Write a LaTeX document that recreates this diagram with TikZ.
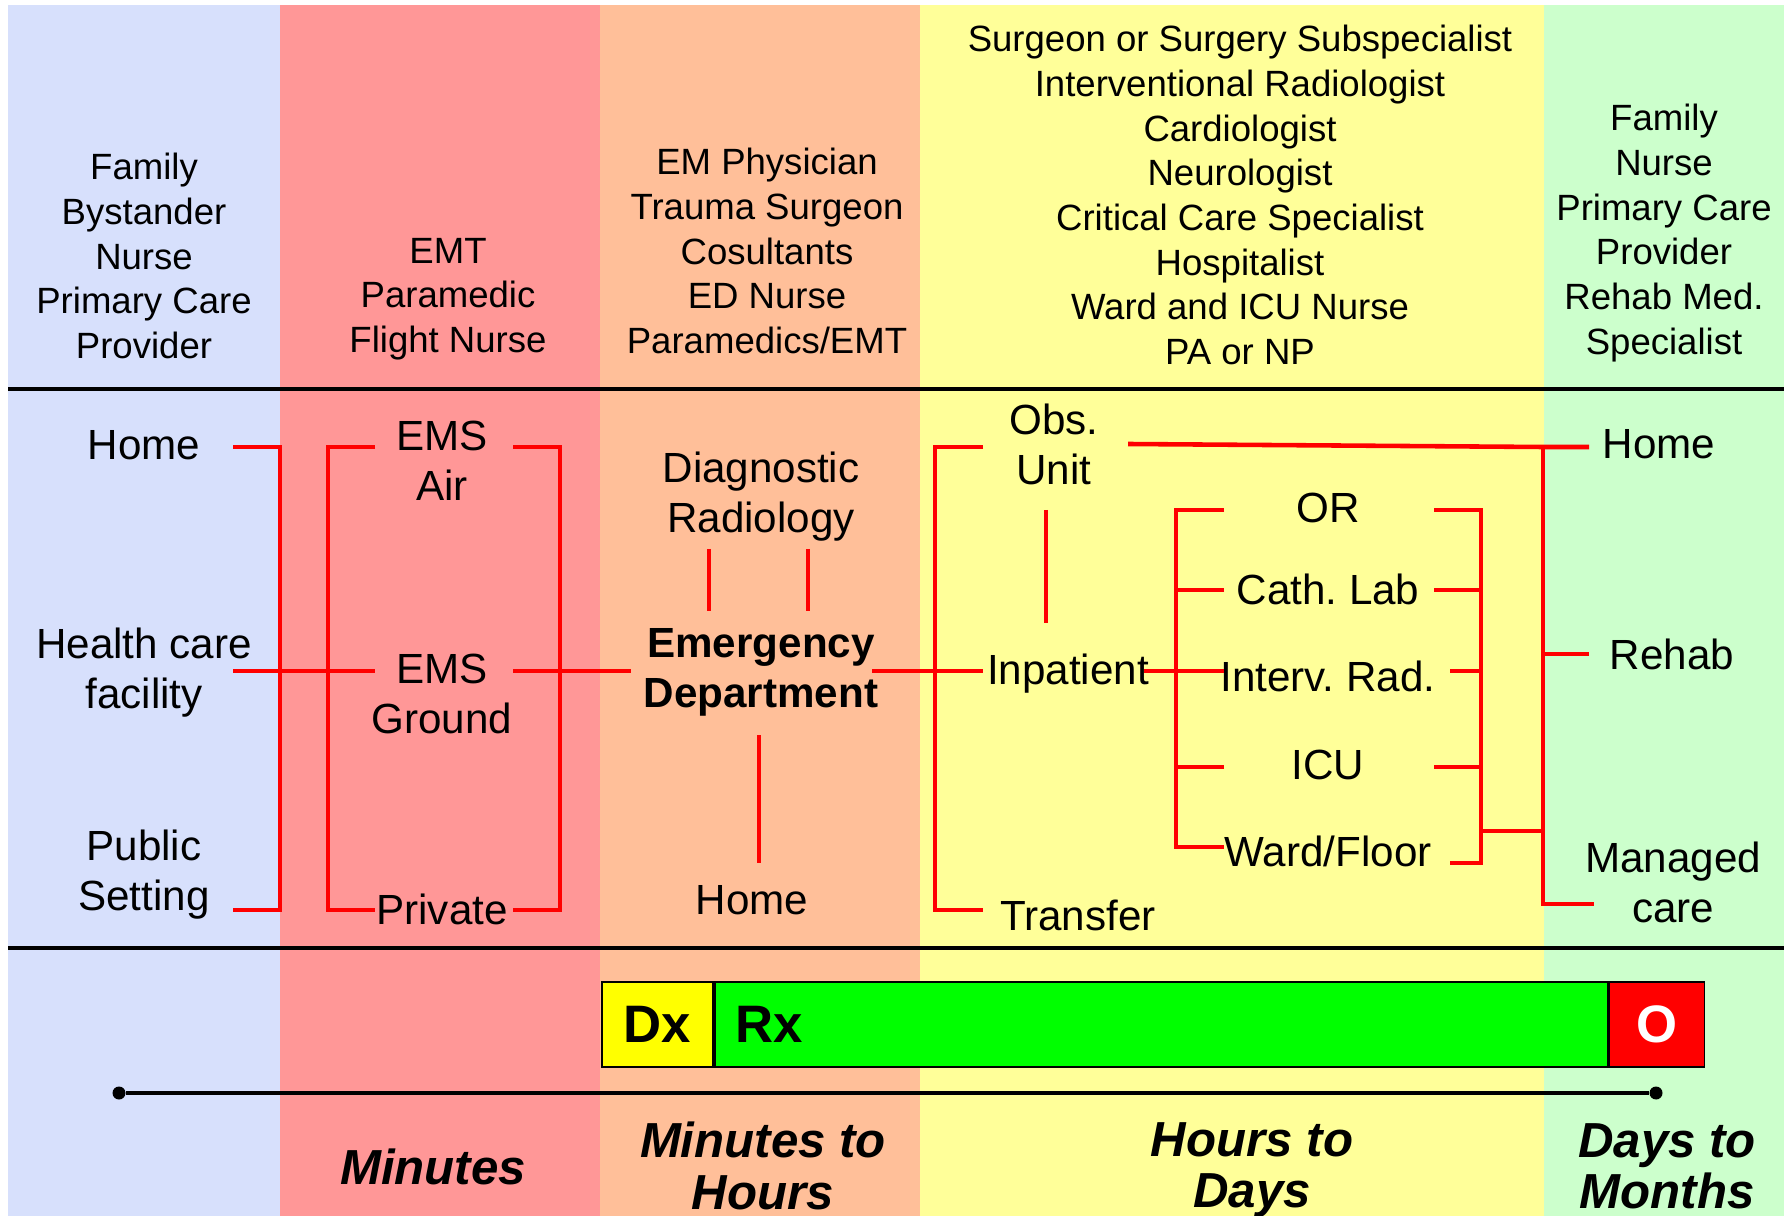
\documentclass[tikz,border=0pt]{standalone}
\usepackage{fontspec}
\setmainfont{Liberation Sans}
\usepackage{xcolor}
\usetikzlibrary{positioning}
\definecolor{bystblue}{HTML}{D7E0FC}
\definecolor{fieldred}{HTML}{FF9797}
\definecolor{edorange}{HTML}{FFBF99}
\definecolor{wardyellow}{HTML}{FFFF99}
\definecolor{rehabgreen}{HTML}{CCFFCC}
\definecolor{dxyellow}{HTML}{FFFF00}
\definecolor{rxgreen}{HTML}{00FF00}
\frenchspacing

\begin{document}
\begin{tikzpicture}[
  x=1cm, y=-1cm,
  hdr/.style={align=center, inner sep=0pt, font=\fontsize{10.4}{12.7}\selectfont},
  place/.style={align=center, inner sep=0pt, font=\fontsize{12}{14.2}\selectfont},
  span/.style={align=center, inner sep=0pt, font=\fontsize{14}{14.6}\selectfont\bfseries\itshape},
  phase/.style={rectangle, draw=black, line width=0.5pt, fill=#1, minimum height=0.85cm,
    inner sep=0pt, font=\fontsize{15}{18}\selectfont\bfseries},
  link/.style={draw=red, line width=1.3pt},
  rule/.style={draw=black, line width=1.4pt},
  dot/.style={circle, fill=black, minimum size=1.3mm, inner sep=0pt}
]
\useasboundingbox (0,0) rectangle (17.87,12.16);
% Background bands
\fill[bystblue] (0.08,0.05) rectangle (2.80,12.16);
\fill[fieldred] (2.80,0.05) rectangle (6.00,12.16);
\fill[edorange] (6.00,0.05) rectangle (9.20,12.16);
\fill[wardyellow] (9.20,0.05) rectangle (15.44,12.16);
\fill[rehabgreen] (15.44,0.05) rectangle (17.84,12.16);
\draw[rule] (0.08,3.89) -- (17.84,3.89);
\draw[rule] (0.08,9.48) -- (17.84,9.48);

% Top row: who provides care
\node[hdr] (whoA) at (1.44,2.56) {Family\\Bystander\\Nurse\\Primary Care\\Provider};
\node[hdr] (whoB) at (4.48,2.99) {EMT\\Paramedic\\Flight Nurse};
\node[hdr] (whoC) at (7.67,2.51) {EM Physician\\Trauma Surgeon\\Cosultants\\ED Nurse\\Paramedics/EMT};
\node[hdr] (whoD) at (12.40,1.95) {Surgeon or Surgery Subspecialist\\Interventional Radiologist\\
  Cardiologist\\Neurologist\\Critical Care Specialist\\Hospitalist\\Ward and ICU Nurse\\PA or NP};
\node[hdr] (whoE) at (16.64,2.33) {Family\\Nurse\\Primary Care\\Provider\\Rehab Med.\\Specialist};

% Middle row: where the patient is
\node[place] (home) at (1.44,4.45) {Home};
\node[place] (hcf) at (1.44,6.73) {Health care\\facility};
\node[place] (pub) at (1.44,8.75) {Public\\Setting};
\node[place] (air) at (4.42,4.61) {EMS\\Air};
\node[place] (ground) at (4.42,6.94) {EMS\\Ground};
\node[place] (private) at (4.42,9.09) {Private};
\node[place] (diag) at (7.61,4.97) {Diagnostic\\Radiology};
\node[place, font=\fontsize{12}{14.2}\selectfont\bfseries] (ed) at (7.61,6.72) {Emergency\\Department};
\node[place] (edhome) at (7.52,9.00) {Home};
\node[place] (obs) at (10.54,4.44) {Obs.\\Unit};
\node[place] (inpat) at (10.68,6.74) {Inpatient};
\node[place] (transf) at (10.78,9.15) {Transfer};
\node[place] (orr) at (13.28,5.08) {OR};
\node[place] (cath) at (13.28,5.89) {Cath. Lab};
\node[place] (interv) at (13.28,6.76) {Interv. Rad.};
\node[place] (icu) at (13.28,7.65) {ICU};
\node[place] (ward) at (13.28,8.51) {Ward/Floor};
\node[place] (homeout) at (16.59,4.44) {Home};
\node[place] (rehab) at (16.72,6.54) {Rehab};
\node[place] (managed) at (16.73,8.82) {Managed\\care};

% Brackets: scene to field care
\coordinate (a1) at (2.33,4.47); \coordinate (a2) at (2.33,6.71); \coordinate (a3) at (2.33,9.10);
\coordinate (b1) at (3.75,4.47); \coordinate (b2) at (3.75,6.71); \coordinate (b3) at (3.75,9.10);
\coordinate (c1) at (5.13,4.47); \coordinate (c2) at (5.13,6.71); \coordinate (c3) at (5.13,9.10);
\coordinate (d2) at (6.31,6.71);
\draw[link] (a1) -| ([xshift=4.7mm]a3) -- (a3);
\draw[link] (b1) -| ([xshift=-4.7mm]b3) -- (b3);
\draw[link] (c1) -| ([xshift=4.7mm]c3) -- (c3);
\draw[link] (a2) -- (b2);
\draw[link] (c2) -- (d2);

% Brackets: ED and disposition
\coordinate (e1) at (7.09,5.49); \coordinate (e2) at (8.08,5.49); \coordinate (e3) at (7.59,7.35);
\draw[link] (e1) -- ++(0,0.62);
\draw[link] (e2) -- ++(0,0.62);
\draw[link] (e3) -- ++(0,1.28);
\coordinate (f2) at (8.72,6.71);
\coordinate (g1) at (9.83,4.47); \coordinate (g2) at (9.83,6.71); \coordinate (g3) at (9.83,9.10);
\draw[link] (f2) -- (g2);
\draw[link] (g1) -| ([xshift=-4.8mm]g3) -- (g3);
\coordinate (h1) at (10.46,5.10);
\draw[link] (h1) -- ++(0,1.13);

% Brackets: inpatient care
\coordinate (p0) at (11.44,6.71);
\coordinate (p1) at (12.24,5.10); \coordinate (p2) at (12.24,5.90); \coordinate (p3) at (12.24,6.71);
\coordinate (p4) at (12.24,7.67); \coordinate (p5) at (12.24,8.47);
\draw[link] (p0) -- (p3);
\draw[link] (p1) -| ([xshift=-4.8mm]p5) -- (p5);
\foreach \n in {p2,p4} \draw[link] (\n) -- ++(-0.48,0);
\coordinate (s1) at (14.34,5.10); \coordinate (s2) at (14.34,5.90); \coordinate (s3) at (14.50,6.71);
\coordinate (s4) at (14.34,7.67); \coordinate (s5) at (14.50,8.63); \coordinate (s6) at (14.81,8.31);
\draw[link] (s1) -| ([xshift=3.1mm]s5) -- (s5);
\foreach \n in {s2,s4} \draw[link] (\n) -- ++(0.47,0);
\draw[link] (s3) -- ++(0.31,0);

% Brackets: discharge
\coordinate (k0) at (11.28,4.44); \coordinate (k1) at (15.43,4.47);
\coordinate (q1) at (15.89,4.47); \coordinate (q2) at (15.89,6.54); \coordinate (q3) at (15.94,9.04);
\draw[link] (k0) -- (k1) -- (q1);
\draw[link] (k1) -- (k1 |- q3) -- (q3);
\draw[link] (k1 |- q2) -- (q2);
\draw[link] (s6) -- (k1 |- s6);

% Bottom row: Dx / Rx / O bar and time line
\node[phase=dxyellow, minimum width=1.11cm, anchor=north west] (dx) at (6.01,9.81) {Dx};
\node[phase=rxgreen, right=0pt of dx, minimum width=8.93cm, text width=8.51cm,
  inner xsep=0.21cm, align=left] (rx) {Rx};
\node[phase=red, right=0pt of rx, minimum width=0.95cm, text=white] (out) {O};
\node[dot] (t0) at (1.19,10.93) {};
\node[dot] (t1) at (16.56,10.93) {};
\draw[rule] (t0) -- (t1);
\node[span] (m1) at (4.33,11.67) {Minutes};
\node[span] (m2) at (7.63,11.66) {Minutes to\\Hours};
\node[span] (m3) at (12.52,11.70) {Hours to\\Days};
\node[span] (m4) at (16.67,11.66) {Days to\\Months};
\end{tikzpicture}
\end{document}
